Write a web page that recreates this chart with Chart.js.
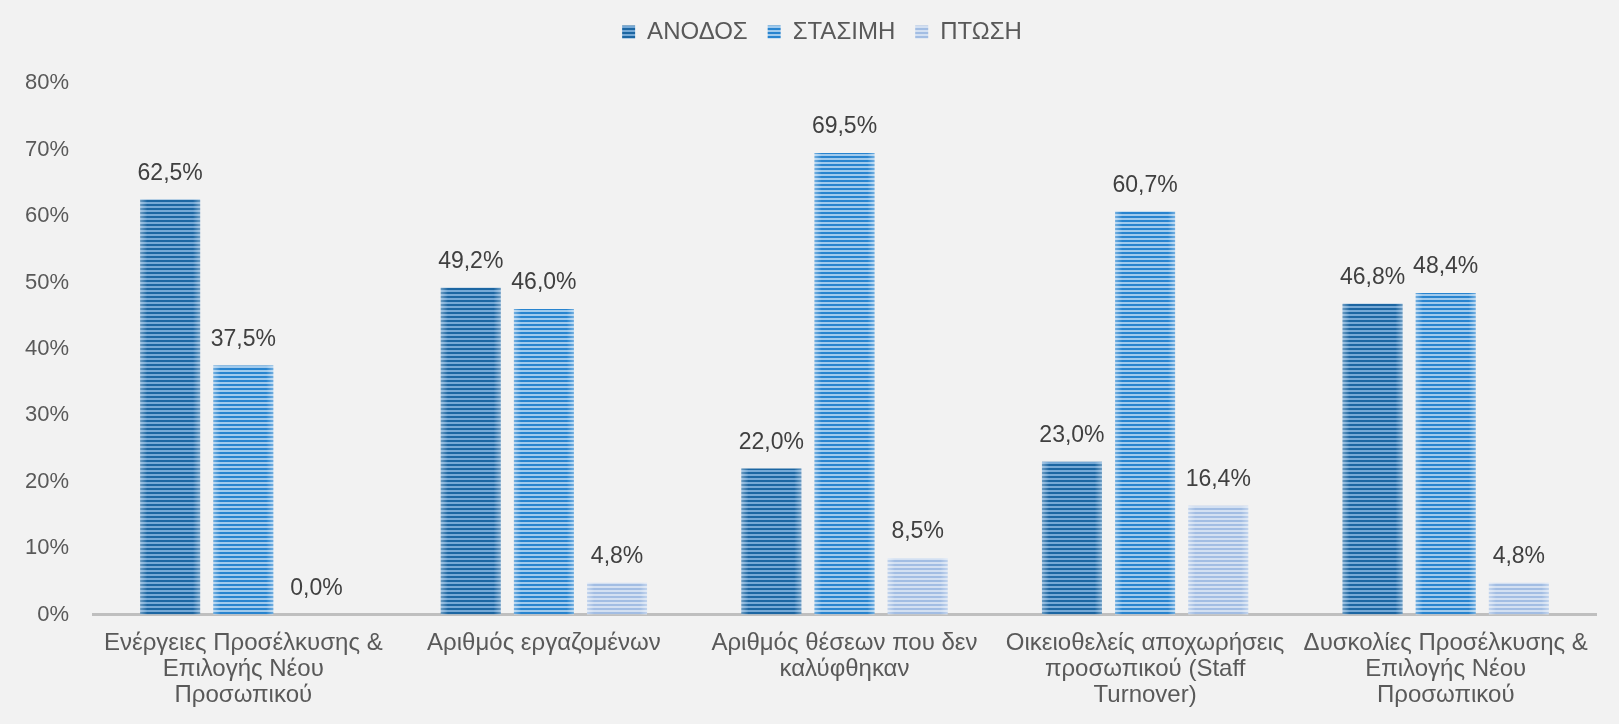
<!DOCTYPE html>
<html>
<head>
<meta charset="utf-8">
<script src="https://cdn.jsdelivr.net/npm/chart.js@4.4.1/dist/chart.umd.min.js"></script>
<style>
  html, body { margin: 0; padding: 0; background: #F2F2F2; }
  #wrap { width: 1619px; height: 724px; position: relative; }
</style>
</head>
<body>
<div id="wrap"><canvas id="c" width="1619" height="724"></canvas></div>
<script>
const categories = [
  ["Ενέργειες Προσέλκυσης &", "Επιλογής Νέου", "Προσωπικού"],
  ["Αριθμός εργαζομένων"],
  ["Αριθμός θέσεων που δεν", "καλύφθηκαν"],
  ["Οικειοθελείς αποχωρήσεις", "προσωπικού (Staff", "Turnover)"],
  ["Δυσκολίες Προσέλκυσης &", "Επιλογής Νέου", "Προσωπικού"]
];
const seriesNames = ["ΑΝΟΔΟΣ", "ΣΤΑΣΙΜΗ", "ΠΤΩΣΗ"];
const anodos  = [62.5, 49.2, 22.0, 23.0, 46.8];
const stasimi = [37.5, 46.0, 69.5, 60.7, 48.4];
const ptosi   = [0.0, 4.8, 8.5, 16.4, 4.8];
const yTicks = [0, 10, 20, 30, 40, 50, 60, 70, 80];

function stripes(dark, light) {
  const t = document.createElement('canvas');
  t.width = 4; t.height = 4;
  const g = t.getContext('2d');
  g.fillStyle = light; g.fillRect(0, 0, 4, 4);
  g.fillStyle = dark; g.fillRect(0, 0, 4, 2);
  return document.getElementById('c').getContext('2d').createPattern(t, 'repeat');
}
const pA = stripes('#1C66A2', '#76A9D6');
const pS = stripes('#2884CF', '#A0CAED');
const pP = stripes('#A2BDE3', '#D3E0F2');

const fmt = v => v.toFixed(1).replace('.', ',') + '%';

const labelPlugin = {
  id: 'valueLabels',
  afterDatasetsDraw(chart) {
    const ctx = chart.ctx;
    ctx.save();
    ctx.font = '23px "Liberation Sans", Arial, sans-serif';
    ctx.fillStyle = '#404040';
    ctx.textAlign = 'center';
    ctx.textBaseline = 'middle';
    chart.data.datasets.forEach((ds, di) => {
      const meta = chart.getDatasetMeta(di);
      meta.data.forEach((bar, i) => {
        ctx.fillText(fmt(ds.data[i]), bar.x, bar.y - 26);
      });
    });
    ctx.restore();
  }
};

const sheen = {
  id: 'sheen',
  afterDatasetsDraw(chart) {
    const ctx = chart.ctx;
    ctx.save();
    chart.data.datasets.forEach((ds, di) => {
      chart.getDatasetMeta(di).data.forEach(bar => {
        const w = bar.width, l = bar.x - w / 2, h = bar.base - bar.y;
        if (h <= 0) return;
        const gr = ctx.createLinearGradient(l, 0, l + w, 0);
        gr.addColorStop(0, 'rgba(255,255,255,0.35)');
        gr.addColorStop(0.12, 'rgba(255,255,255,0)');
        gr.addColorStop(0.88, 'rgba(255,255,255,0)');
        gr.addColorStop(1, 'rgba(255,255,255,0.35)');
        ctx.fillStyle = gr;
        ctx.fillRect(l, bar.y, w, h);
      });
    });
    ctx.restore();
  }
};

const legendShift = {
  id: 'legendShift',
  afterLayout(chart) {
    if (chart.legend) { chart.legend.left += 24; chart.legend.right += 24; }
  }
};

Chart.defaults.font.family = '"Liberation Sans", Arial, sans-serif';
Chart.defaults.font.size = 22;
Chart.defaults.color = '#595959';

new Chart(document.getElementById('c'), {
  type: 'bar',
  data: {
    labels: categories,
    datasets: [
      { label: seriesNames[0], data: anodos, backgroundColor: pA },
      { label: seriesNames[1], data: stasimi, backgroundColor: pS },
      { label: seriesNames[2], data: ptosi, backgroundColor: pP }
    ]
  },
  options: {
    responsive: false,
    animation: false,
    categoryPercentage: 0.73,
    barPercentage: 0.82,
    layout: { padding: { left: 0, right: 23, top: 0, bottom: 8 } },
    plugins: {
      legend: {
        position: 'top',
        labels: { boxWidth: 13, boxHeight: 13, padding: 20, color: '#595959', font: { size: 24 } }
      },
      subtitle: {
        display: true, text: ' ', weight: 500, position: 'top',
        font: { size: 1 }, padding: { top: 14, bottom: 14 }
      },
      tooltip: { enabled: false }
    },
    scales: {
      x: {
        grid: { display: false },
        border: { display: true, color: '#BFBFBF', width: 3 },
        ticks: { color: '#595959', maxRotation: 0, autoSkip: false, padding: 8,
                 font: { size: 24, lineHeight: 1.075 } }
      },
      y: {
        min: 0, max: 80,
        afterBuildTicks: s => { s.ticks = yTicks.map(v => ({ value: v })); },
        afterFit: s => { s.width = 93; },
        grid: { display: false },
        border: { display: false },
        ticks: { color: '#595959', padding: 16, callback: v => v + '%', font: { size: 22 } }
      }
    }
  },
  plugins: [labelPlugin, sheen, legendShift]
});
</script>
</body>
</html>
